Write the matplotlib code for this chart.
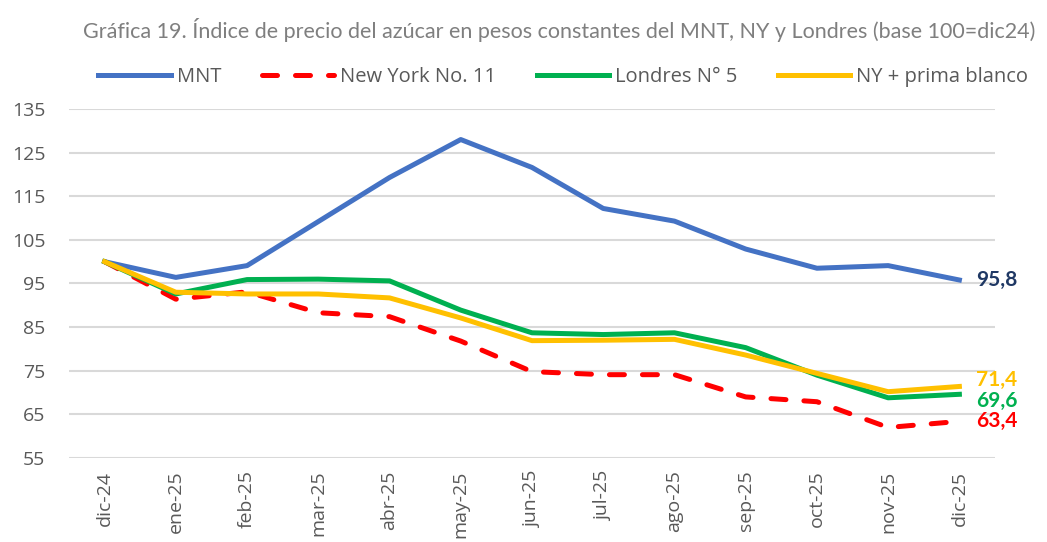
import numpy as np
import matplotlib
matplotlib.use("Agg")
import matplotlib.pyplot as plt

plt.rcParams['font.family'] = ['Open Sans', 'DejaVu Sans']

# datos
meses = ["dic-24", "ene-25", "feb-25", "mar-25", "abr-25", "may-25", "jun-25",
         "jul-25", "ago-25", "sep-25", "oct-25", "nov-25", "dic-25"]
mnt = [100, 96.4, 99.1, 109.2, 119.3, 128.0, 121.6, 112.2, 109.3, 102.9, 98.5, 99.1, 95.8]
ny11 = [100, 91.4, 93.1, 88.3, 87.4, 81.8, 74.8, 74.1, 74.1, 69.0, 67.9, 62.0, 63.4]
londres = [100, 92.6, 95.9, 96.0, 95.6, 88.9, 83.7, 83.3, 83.7, 80.3, 74.0, 68.8, 69.6]
ny_prima = [100, 93.0, 92.6, 92.6, 91.7, 87.1, 81.9, 82.0, 82.2, 78.6, 74.4, 70.2, 71.4]
yticks = [55, 65, 75, 85, 95, 105, 115, 125, 135]

gris = "#595959"
fig = plt.figure(figsize=(10.47, 5.42), dpi=100)
ax = fig.add_axes([69/1047, 1-458/542, (995-69)/1047, (458-109)/542])

x = np.arange(len(meses))
lw = 3.6
l1, = ax.plot(x, mnt, color="#4472C4", lw=lw, label="MNT", solid_joinstyle="round")
l2, = ax.plot(x, ny11, color="#FF0000", lw=lw, label="New York No. 11",
              linestyle=(0, (3, 3.6)), dash_capstyle="round")
l3, = ax.plot(x, londres, color="#00B050", lw=lw, label="Londres N° 5")
l4, = ax.plot(x, ny_prima, color="#FFC000", lw=lw, label="NY + prima blanco")

ax.set_xlim(-0.5, len(meses) - 0.5)
ax.set_ylim(55, 135)
ax.set_yticks(yticks)
ax.set_xticks(x)
ax.set_xticklabels(meses, rotation=90)
ax.tick_params(length=0, labelsize=14, colors=gris)
ax.tick_params(axis="y", pad=17)
ax.tick_params(axis="x", pad=9)
ax.grid(axis="y", color="#D9D9D9", lw=1.5)
ax.set_axisbelow(True)
for s in ax.spines.values():
    s.set_visible(False)

# etiquetas del ultimo dato
ultimos = [(mnt[-1], "#1F3864", 0), (ny_prima[-1], "#FFC000", 5),
           (londres[-1], "#00B050", -4.5), (ny11[-1], "#FF0000", 0)]
for val, c, dy in ultimos:
    ax.annotate(f"{val:.1f}".replace(".", ","), (x[-1], val), xytext=(12, dy),
                textcoords="offset points", color=c, fontsize=15, fontweight="bold",
                family=["Lato", "DejaVu Sans"],
                va="center", ha="left", annotation_clip=False)

fig.text(0.534, 0.945, "Gráfica 19. Índice de precio del azúcar en pesos constantes del MNT, NY y Londres (base 100=dic24)",
         ha="center", va="center", fontsize=15.5, color="#7F7F7F", family=["Lato", "DejaVu Sans"])
fig.legend(handles=[l1, l2, l3, l4], loc="center", bbox_to_anchor=(0.538, 0.858), ncol=4,
           frameon=False, fontsize=14.5, handlelength=3.6, columnspacing=2.0,
           handletextpad=0.3, labelcolor=gris)

fig.savefig("out.png", dpi=100)
